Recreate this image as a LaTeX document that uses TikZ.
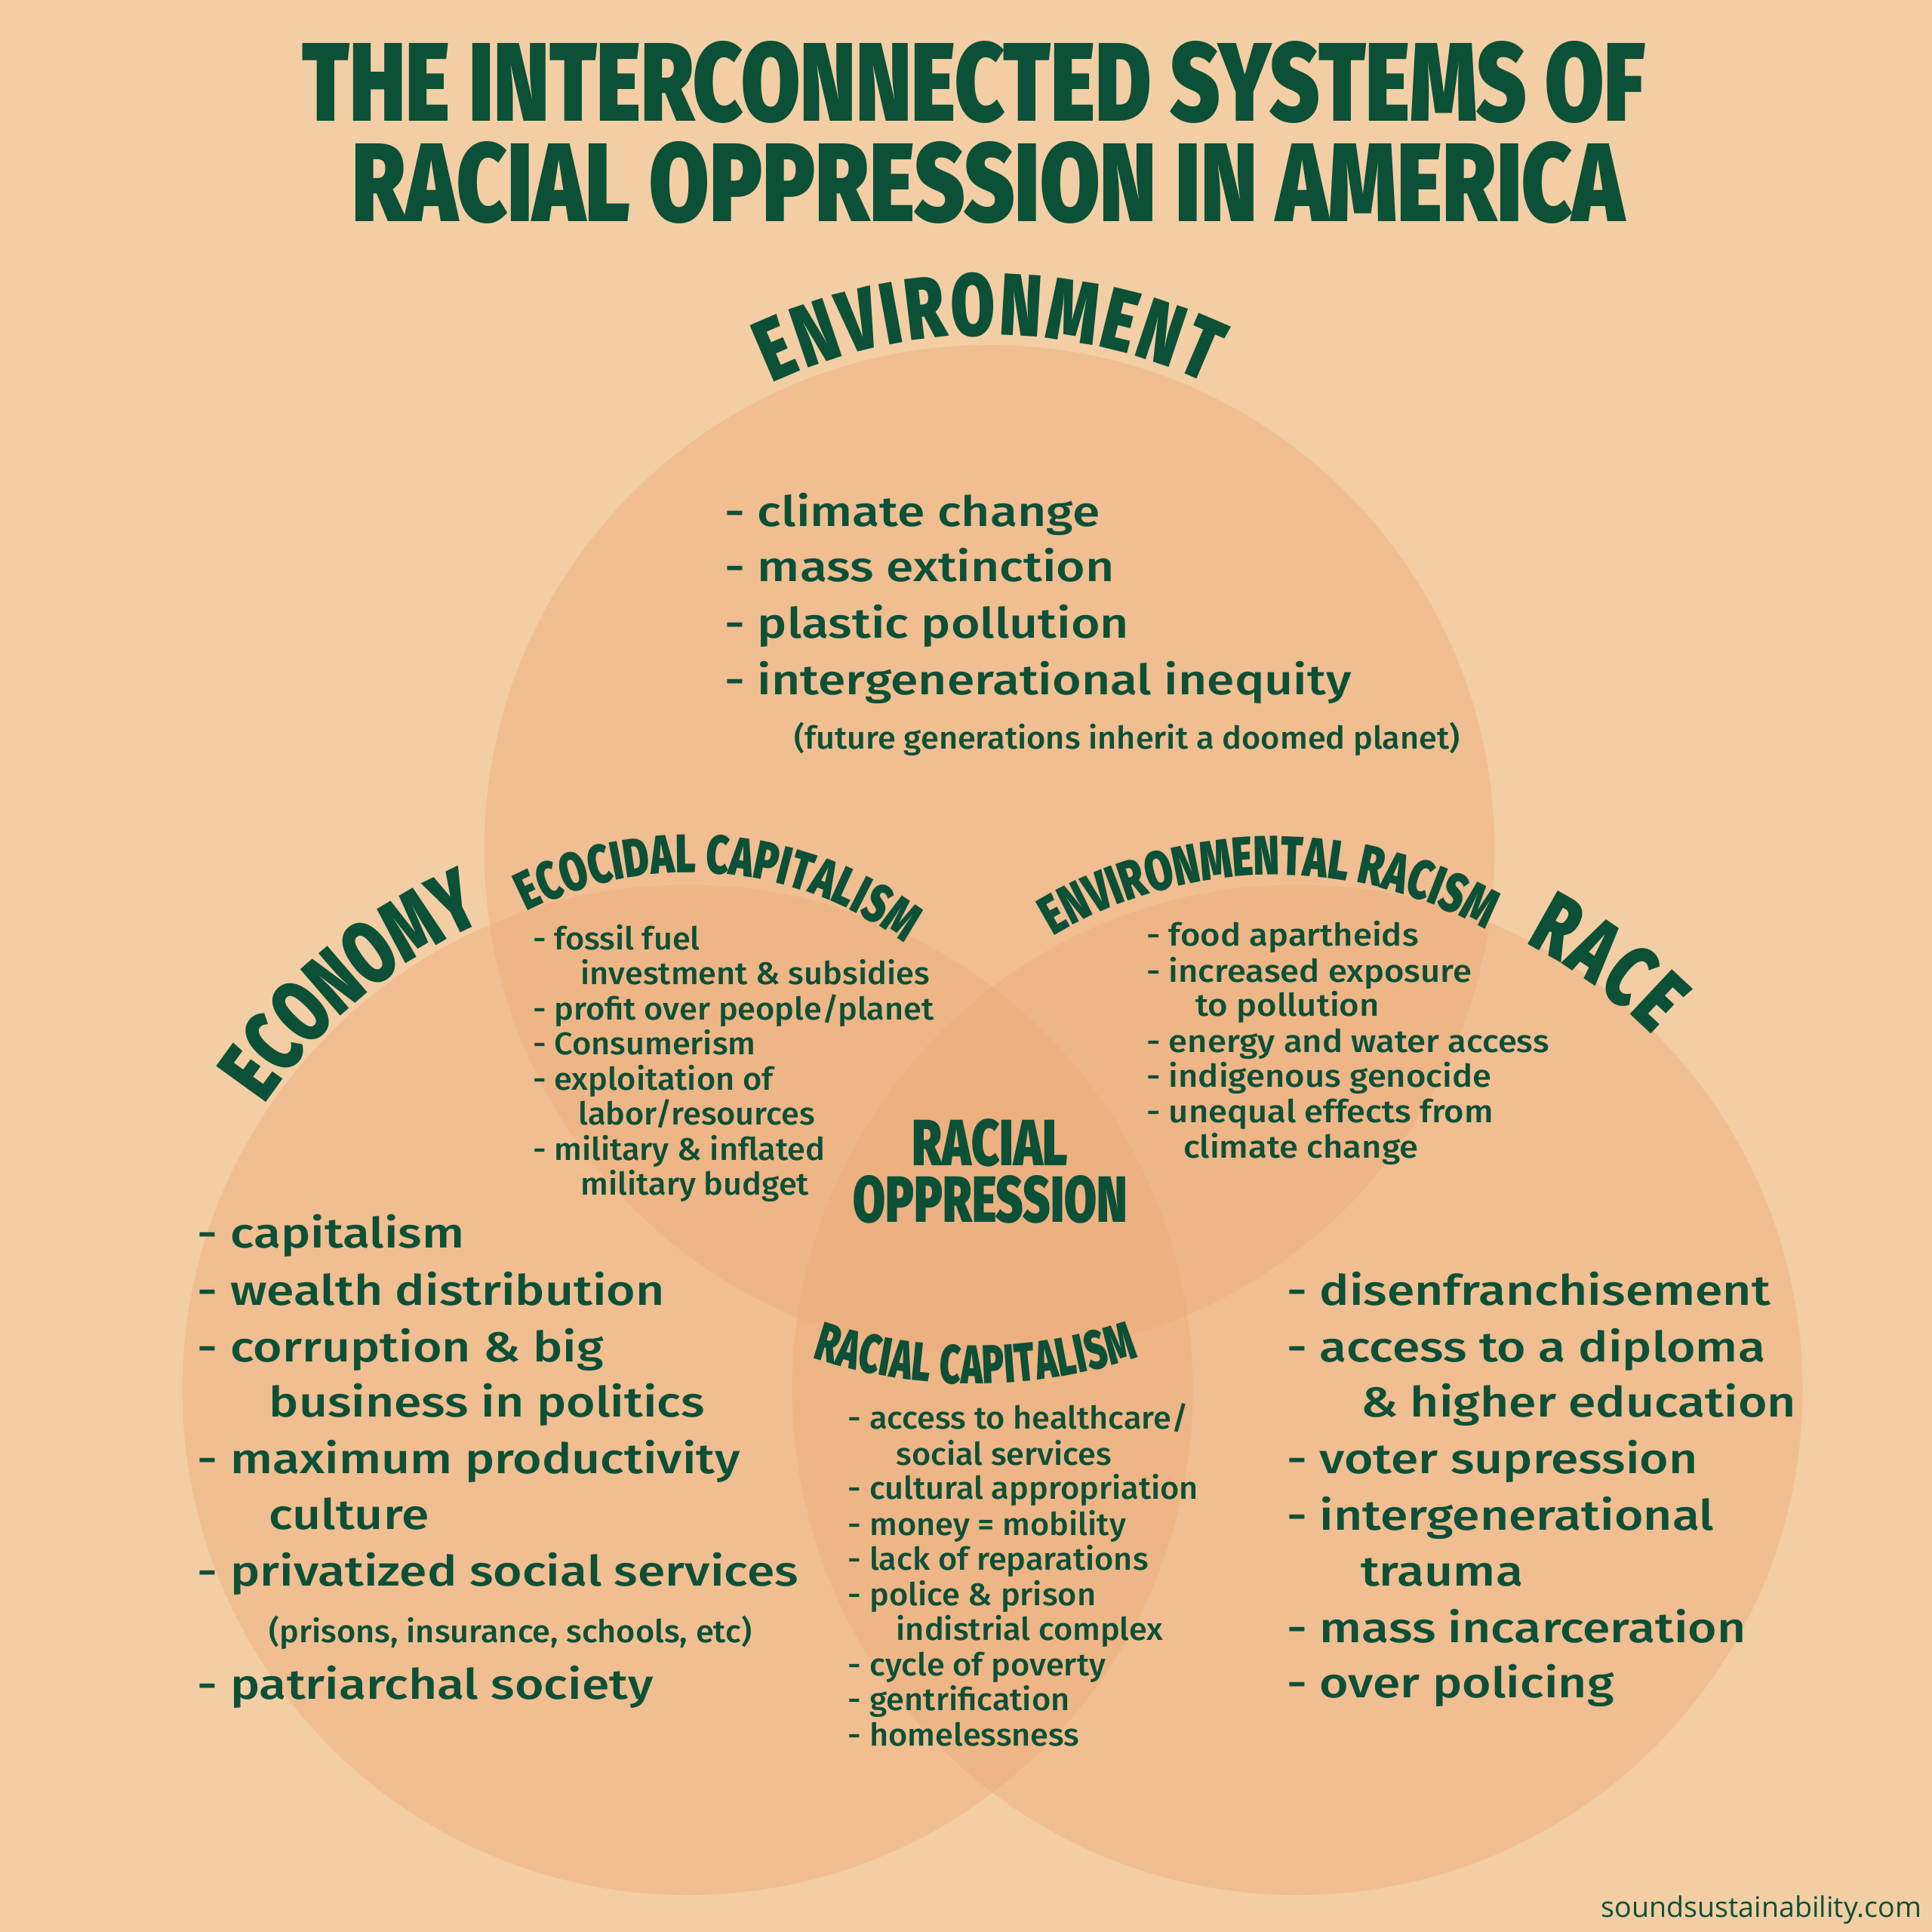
\documentclass[tikz,border=0pt]{standalone}
\usepackage{fontspec}
\usetikzlibrary{decorations.text}
\definecolor{bg}{HTML}{F3CEA4}
\definecolor{circ}{HTML}{ECAA78}
\definecolor{tgreen}{HTML}{0B5037}
\IfFontExistsTF{Fira Sans Black}
  {\newfontfamily\hdfontX{Fira Sans Black}[FakeStretch=0.72]\newcommand\hdfont{\hdfontX}%
   \newfontfamily\hdfontY{Fira Sans Black}[FakeStretch=0.66]\newcommand\hdsfont{\hdfontY}}
  {\newfontfamily\hdfontX{Fira Sans}[FakeStretch=0.72,FakeBold=2]\newcommand\hdfont{\hdfontX\bfseries}%
   \newfontfamily\hdfontY{Fira Sans}[FakeStretch=0.66,FakeBold=2]\newcommand\hdsfont{\hdfontY\bfseries}}
\IfFontExistsTF{Fira Sans Medium}
  {\newfontfamily\bdfont{Fira Sans Medium}[FakeStretch=1.19]%
   \newfontfamily\smfont{Fira Sans Medium}[FakeStretch=1.04]%
   \newfontfamily\smfontB{Fira Sans Medium}[FakeStretch=1.09]}
  {\newfontfamily\bdfont{Fira Sans}[FakeStretch=1.19]%
   \newfontfamily\smfont{Fira Sans}[FakeStretch=1.04]%
   \newfontfamily\smfontB{Fira Sans}[FakeStretch=1.09]}
\newfontfamily\urlfont{Open Sans}
\begin{document}
\begin{tikzpicture}[x=0.016327cm,y=0.016327cm,
  big/.style={font=\bdfont\fontsize{15.8pt}{19pt}\selectfont, text=tgreen, inner sep=0, anchor=base west},
  small/.style={font=\smfont\fontsize{11.85pt}{14pt}\selectfont, text=tgreen, inner sep=0, anchor=base west},
  smallb/.style={font=\smfontB\fontsize{11.85pt}{14pt}\selectfont, text=tgreen, inner sep=0, anchor=base west},
  venn/.style={fill=circ, fill opacity=0.42},
  arctext/.style={decorate, decoration={text along path, text align={fit to path}, text color=tgreen, text={#1}}}]
\useasboundingbox (0,0) rectangle (1568,-1568);
\fill[bg] (0,0) rectangle (1568,-1568);
% circles
\fill[venn] (803,-690) circle[radius=410];
\fill[venn] (558,-1128) circle[radius=410];
\fill[venn] (1053,-1128) circle[radius=410];
% title
\node[anchor=base west, inner sep=0, text=tgreen] (title1) at (245,-98) {\resizebox{17.80cm}{1.06cm}{\hdfont THE INTERCONNECTED SYSTEMS OF}};
\node[anchor=base west, inner sep=0, text=tgreen] (title2) at (285,-180) {\resizebox{16.87cm}{1.06cm}{\hdfont RACIAL OPPRESSION IN AMERICA}};
% main curved labels
\path[arctext={|\hdfont\fontsize{33.2pt}{34pt}\selectfont|ENVIRONMENT}] ([shift={(115:418)}]803,-690) arc[start angle=115, end angle=65, radius=418];
\path[arctext={|\hdfont\fontsize{33.2pt}{34pt}\selectfont|ECONOMY}] ([shift={(146:414)}]558,-1128) arc[start angle=146, end angle=113.5, radius=414];
\path[arctext={|\hdfont\fontsize{33.2pt}{34pt}\selectfont|RACE}] ([shift={(63:407)}]1053,-1128) arc[start angle=63, end angle=45, radius=407];
% intersection labels
\path[arctext={|\hdfont\fontsize{20.5pt}{21pt}\selectfont|ECOCIDAL CAPITALISM}] ([shift={(117:292)}]560,-1000) arc[start angle=117, end angle=53.5, radius=292];
\path[arctext={|\hdfont\fontsize{20.9pt}{21pt}\selectfont|ENVIRONMENTAL RACISM}] ([shift={(121:350)}]1035,-1060) arc[start angle=121, end angle=62, radius=350];
\path[arctext={|\hdsfont\fontsize{20.6pt}{21pt}\selectfont|RACIAL CAPITALISM}] ([shift={(252:423)}]790,-700) arc[start angle=252, end angle=288.5, radius=423];
\node[anchor=base west, inner sep=0, text=tgreen] (ro1) at (740,-946) {\resizebox{2.066cm}{0.62cm}{\hdfont RACIAL}};
\node[anchor=base west, inner sep=0, text=tgreen] (ro2) at (692,-992) {\resizebox{3.633cm}{0.62cm}{\hdfont OPPRESSION}};
% environment list
\foreach \xx/\yy/\tx [count=\i] in {588/427/{- climate change}, 588/472/{- mass extinction}, 588/518/{- plastic pollution}, 588/564/{- intergenerational inequity}}
  \node[big] (env\i) at (\xx,-\yy) {\tx};
\node[small] (envnote) at (644,-608) {(future generations inherit a doomed planet)};
% ecocidal capitalism
\foreach \xx/\yy/\tx [count=\i] in {432/771/{- fossil fuel}, 471/799/{investment \& subsidies}, 432/828/{- profit over people/planet}, 432/856/{- Consumerism}, 432/885/{- exploitation of}, 469/913/{labor/resources}, 432/942/{- military \& inflated}, 471/970/{military budget}}
  \node[small] (eco\i) at (\xx,-\yy) {\tx};
% environmental racism
\foreach \xx/\yy/\tx [count=\i] in {930/768/{- food apartheids}, 930/797/{- increased exposure}, 970/825/{to pollution}, 930/854/{- energy and water access}, 930/882/{- indigenous genocide}, 930/911/{- unequal effects from}, 960/940/{climate change}}
  \node[smallb] (envr\i) at (\xx,-\yy) {\tx};
% racial capitalism
\foreach \xx/\yy/\tx [count=\i] in {688/1160/{- access to healthcare/}, 727/1189/{social services}, 688/1217/{- cultural appropriation}, 688/1246/{- money = mobility}, 688/1274/{- lack of reparations}, 688/1303/{- police \& prison}, 727/1331/{indistrial complex}, 688/1360/{- cycle of poverty}, 688/1388/{- gentrification}, 688/1417/{- homelessness}}
  \node[small] (rcap\i) at (\xx,-\yy) {\tx};
% economy list
\foreach \xx/\yy/\tx [count=\i] in {160/1013/{- capitalism}, 160/1059/{- wealth distribution}, 160/1105/{- corruption \& big}, 218/1150/{business in politics}, 160/1196/{- maximum productivity}, 218/1241/{culture}, 160/1287/{- privatized social services}, 160/1379/{- patriarchal society}}
  \node[big] (econ\i) at (\xx,-\yy) {\tx};
\node[small] (econnote) at (218,-1333) {(prisons, insurance, schools, etc)};
% race list
\foreach \xx/\yy/\tx [count=\i] in {1044/1059/{- disenfranchisement}, 1044/1105/{- access to a diploma}, 1104/1150/{\& higher education}, 1044/1196/{- voter supression}, 1044/1242/{- intergenerational}, 1104/1287/{trauma}, 1044/1333/{- mass incarceration}, 1044/1378/{- over policing}}
  \node[big] (race\i) at (\xx,-\yy) {\tx};
% url
\node[anchor=base east, inner sep=0, text=tgreen, font=\urlfont\fontsize{10.7pt}{12pt}\selectfont] (url) at (1560,-1556) {soundsustainability.com};
\end{tikzpicture}
\end{document}
